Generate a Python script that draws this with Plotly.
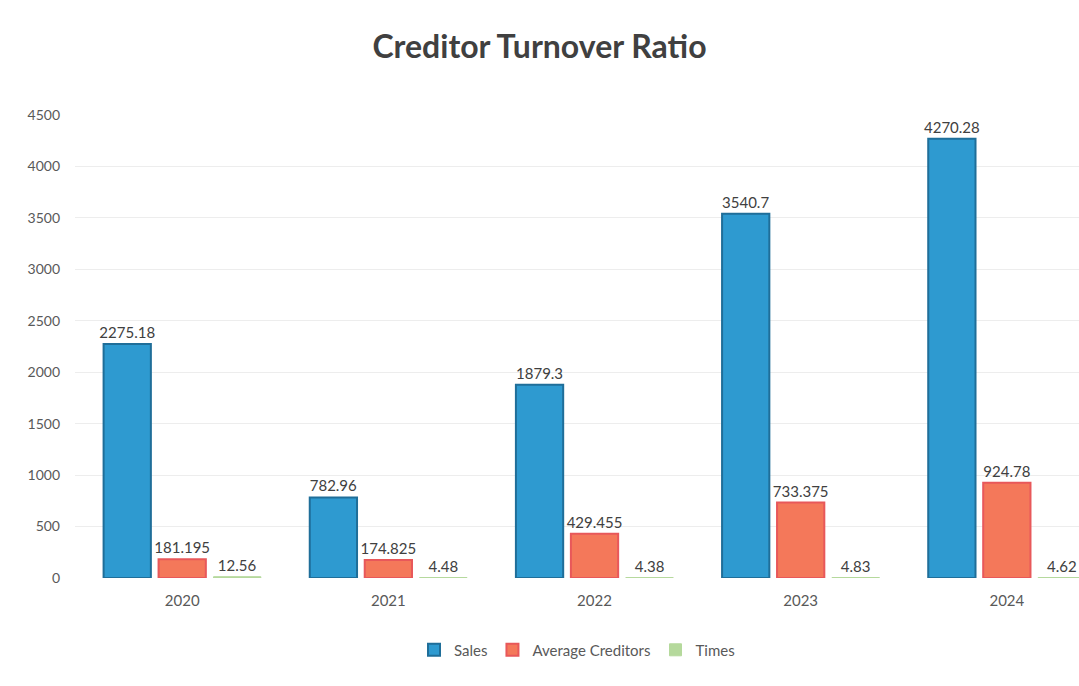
import plotly.graph_objects as go

years = ["2020", "2021", "2022", "2023", "2024"]
sales = [2275.18, 782.96, 1879.3, 3540.7, 4270.28]
avg_creditors = [181.195, 174.825, 429.455, 733.375, 924.78]
times = [12.56, 4.48, 4.38, 4.83, 4.62]
y_ticks = [0, 500, 1000, 1500, 2000, 2500, 3000, 3500, 4000, 4500]

label_font = dict(family="Lato, Liberation Sans, sans-serif", size=15, color="#404040")

fig = go.Figure()
fig.add_trace(go.Bar(
    name="Sales", x=years, y=sales,
    text=[f"{v:g}" for v in sales], textposition="outside",
    textfont=label_font, cliponaxis=False,
    marker=dict(color="#2E9AD0", line=dict(color="#1F6E99", width=2)),
))
fig.add_trace(go.Bar(
    name="Average Creditors", x=years, y=avg_creditors,
    text=[f"{v:g}" for v in avg_creditors], textposition="outside",
    textfont=label_font, cliponaxis=False,
    marker=dict(color="#F4785A", line=dict(color="#E8585A", width=2)),
))
fig.add_trace(go.Bar(
    name="Times", x=years, y=times,
    text=[f"{v:g}" for v in times], textposition="outside",
    textfont=label_font, cliponaxis=False,
    marker=dict(color="#B5D99C", line=dict(color="#B5D99C", width=1)),
))

fig.update_layout(
    width=1079, height=686,
    paper_bgcolor="white", plot_bgcolor="white",
    barmode="group", bargap=0.2, bargroupgap=0.14,
    uniformtext=dict(minsize=15, mode="show"),
    margin=dict(l=75, r=0, t=115, b=108),
    title=dict(
        text="<b>Creditor Turnover Ratio</b>",
        x=0.5, xanchor="center", y=0.932, yanchor="middle",
        font=dict(family="Lato, Liberation Sans, sans-serif", size=32, color="#404040"),
    ),
    font=dict(family="Lato, Liberation Sans, sans-serif", color="#595959"),
    legend=dict(
        orientation="h", x=0.5, xanchor="center", y=-0.12, yanchor="top",
        font=dict(size=15, color="#595959"),
    ),
    showlegend=True,
)
fig.update_xaxes(
    type="category", range=[-0.52, 4.35],
    showgrid=False, showline=False, ticks="", ticklabelstandoff=12,
    tickfont=dict(size=15, color="#595959"),
)
fig.update_yaxes(
    range=[0, 4500], tickvals=y_ticks,
    showgrid=True, gridcolor="#EDEDED", zeroline=False, showline=False,
    ticklabelstandoff=14,
    tickfont=dict(size=14, color="#595959"),
)

fig.write_html("out.html")
